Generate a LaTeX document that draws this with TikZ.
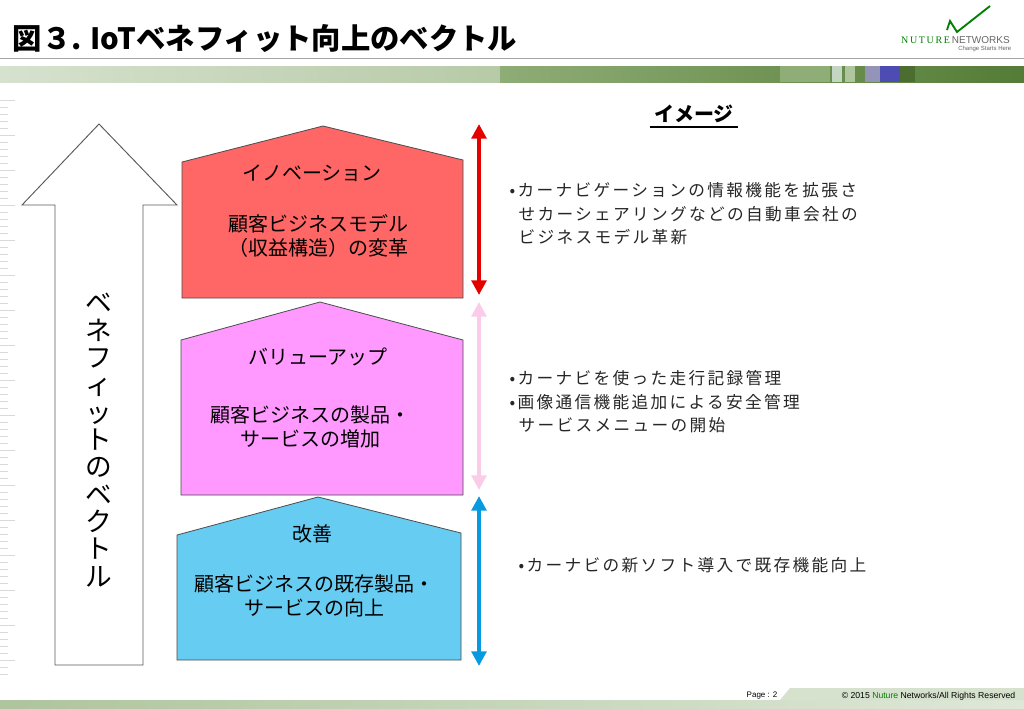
\documentclass[tikz,border=0pt]{standalone}
\usepackage{fontspec}
\setmainfont{Noto Sans CJK JP}
\newfontfamily\lat{Liberation Sans}
\newfontfamily\latser{Liberation Serif}
\newfontfamily\spaced[LetterSpace=14]{Noto Sans CJK JP}
\usetikzlibrary{arrows.meta}
\definecolor{redf}{HTML}{FF6666}
\definecolor{pinkf}{HTML}{FF99FF}
\definecolor{bluef}{HTML}{66CCF2}
\definecolor{gband}{HTML}{5E8A3C}
\begin{document}
\begin{tikzpicture}[x=0.75pt,y=-0.75pt,
  house/.style={draw=black!70,line width=0.6pt},
  lbl/.style={font=\fontsize{15}{18}\selectfont,align=center},
  rt/.style={font=\spaced\fontsize{12.5}{17.5}\selectfont,align=left,anchor=north west,text=black!85},
  varr/.style={line width=3.6pt,{Triangle[length=11pt,width=11pt]}-{Triangle[length=11pt,width=11pt]}}]
\useasboundingbox (0,0) rectangle (1024,708);
\fill[white] (0,0) rectangle (1024,708);
% header
\node[anchor=west,font=\bfseries\fontsize{22}{26}\selectfont] (title) at (8,38) {図３. IoTベネフィット向上のベクトル};
\draw[gray!70,line width=0.6pt] (0,58) -- (1024,58);
\shade[left color=gband!25!white,right color=gband!45!white] (0,66) rectangle (500,82);
\shade[left color=gband!70!white,right color=gband!90!black] (500,66) rectangle (1024,82);
\fill[gband!70!white] (780,66) rectangle (830,82);
\fill[green!20!gray!40] (832,66) rectangle (842,82);
\fill[gband!50!white] (845,66) rectangle (855,82);
\fill[gray!80!blue!70] (865,66) rectangle (880,82);
\fill[blue!40!gray] (880,66) rectangle (900,82);
\fill[gband!80!black] (900,66) rectangle (915,82);
\draw[green!50!black,line width=1.4pt] (947,30) -- (950,21) -- (957,32) -- (990,6);
\node[anchor=east,font=\latser\fontsize{7.5}{9}\selectfont,text=green!50!black,inner sep=0.5pt] (logo1) at (951,40) {N\,U\,T\,U\,R\,E};
\node[anchor=west,font=\lat\fontsize{7.5}{9}\selectfont,text=gray!80!black,inner sep=0.5pt] (logo2) at (951,40) {NETWORKS};
\node[anchor=east,font=\lat\fontsize{4.5}{5}\selectfont,text=gray!80!black] (logo3) at (1016,49) {Change Starts Here};
% ruler
\foreach \y in {100,107,...,680} \draw[gray!30] (0,\y) -- (8,\y);
\foreach \y in {100,135,...,680} \draw[gray!30] (0,\y) -- (15,\y);
% big arrow
\draw[gray!70!black,line width=0.7pt,fill=white] (99,124) -- (177,205) -- (143,205) -- (143,665) -- (55,665) -- (55,205) -- (22,205) -- cycle;
\node[font=\fontsize{20}{20.5}\selectfont,align=center] (bv) at (99,440) {ベ\\ネ\\フ\\ィ\\ッ\\ト\\の\\ベ\\ク\\ト\\ル};
% houses
\draw[house,fill=redf] (182,162) -- (323,126) -- (463,160) -- (463,298) -- (182,298) -- cycle;
\node[lbl] (r1) at (312,173) {イノベーション};
\node[lbl] (r2) at (318,236) {顧客ビジネスモデル\\（収益構造）の変革};
\draw[house,fill=pinkf] (181,340) -- (320,302) -- (463,340) -- (463,495) -- (181,495) -- cycle;
\node[lbl] (p1) at (318,357) {バリューアップ};
\node[lbl] (p2) at (310,427) {顧客ビジネスの製品・\\サービスの増加};
\draw[house,fill=bluef] (177,535) -- (318,497) -- (461,533) -- (461,660) -- (177,660) -- cycle;
\node[lbl] (b1) at (312,534) {改善};
\node[lbl] (b2) at (314,596) {顧客ビジネスの既存製品・\\サービスの向上};
% vertical arrows
\coordinate (ra) at (479,124); \coordinate (rb) at (479,295);
\coordinate (pa) at (479,302); \coordinate (pb) at (479,490);
\coordinate (ba) at (479,496); \coordinate (bb) at (479,666);
\draw[varr,draw=red!90!black,fill=red!90!black] (ra) -- (rb);
\draw[varr,draw=magenta!20,fill=magenta!20] (pa) -- (pb);
\draw[varr,draw=cyan!85!blue,fill=cyan!85!blue] (ba) -- (bb);
% right text
\node[font=\bfseries\fontsize{15}{18}\selectfont] (img) at (694,114) {イメージ};
\draw[line width=0.8pt] (650,127) -- (738,127);
\node[rt] (t1) at (505,178) {•カーナビゲーションの情報機能を拡張さ\\\ \,せカーシェアリングなどの自動車会社の\\\ \,ビジネスモデル革新};
\node[rt] (t2) at (505,366) {•カーナビを使った走行記録管理\\•画像通信機能追加による安全管理\\\ \,サービスメニューの開始};
\node[rt] (t3) at (514,553) {•カーナビの新ソフト導入で既存機能向上};
% footer
\shade[left color=gband!50!white,right color=gband!20!white] (0,700) rectangle (1024,708);
\fill[gband!25!white] (790,688) -- (1024,688) -- (1024,700) -- (780,700) -- cycle;
\node[font=\lat\fontsize{6}{7}\selectfont] (pg) at (762,696) {Page : 2};
\node[anchor=east,font=\lat\fontsize{6.5}{7}\selectfont] (cp) at (1020,696) {© 2015 \textcolor{green!50!black}{Nuture} Networks/All Rights Reserved};
\end{tikzpicture}
\end{document}
